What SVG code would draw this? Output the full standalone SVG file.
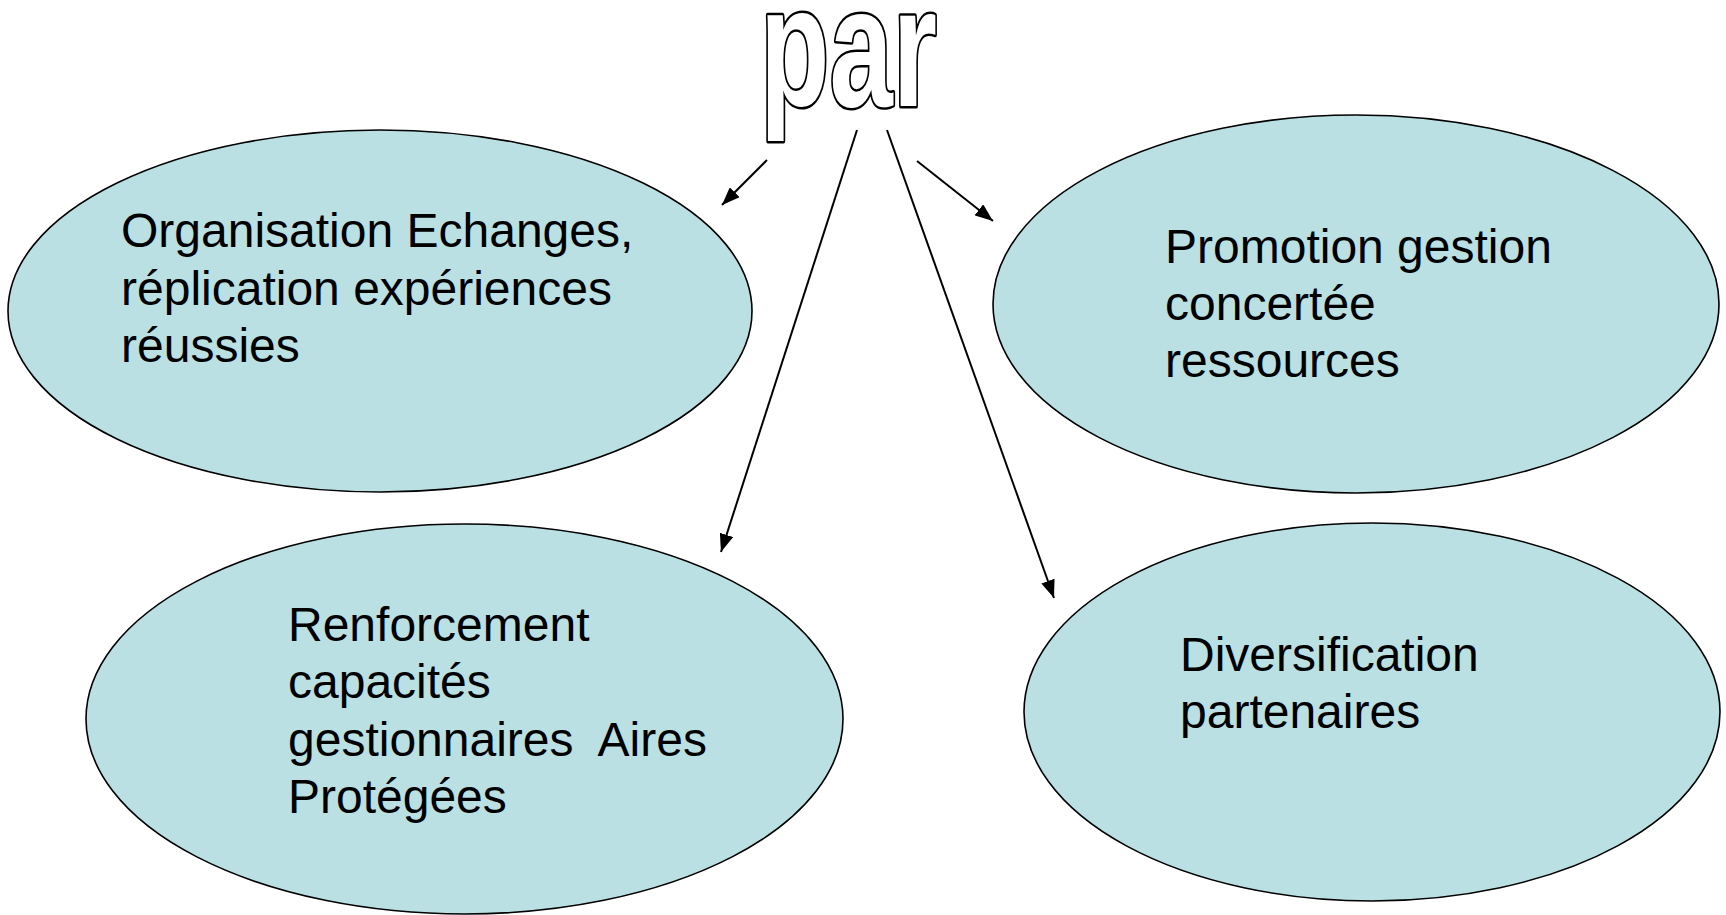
<svg xmlns="http://www.w3.org/2000/svg" width="1726" height="915" viewBox="0 0 1726 915">
<style>
.node ellipse{fill:#BBE0E3;stroke:#000;stroke-width:1.6}
.lbl{font-family:"Liberation Sans",Arial,sans-serif;font-size:48px;fill:#000}
.conn line{stroke:#000;stroke-width:2;fill:none}
.title{font-family:"Liberation Sans",Arial,sans-serif;font-weight:bold;font-size:171px;fill:#fff;stroke:#000;stroke-width:5;paint-order:stroke;stroke-linejoin:round}
</style>
<defs>
<marker id="ah" markerUnits="userSpaceOnUse" markerWidth="18" markerHeight="14" refX="18" refY="7" orient="auto">
<path d="M0,0 L18,7 L0,14 z" fill="#000"/>
</marker>
</defs>
<rect width="1726" height="915" fill="#fff"/>
<g id="title">
<text class="title" x="760" y="106" textLength="177" lengthAdjust="spacingAndGlyphs">par</text>
</g>
<g id="node-organisation" class="node">
<ellipse cx="380" cy="311" rx="372" ry="181"/>
<text class="lbl"><tspan x="121" y="247">Organisation Echanges,</tspan><tspan x="121" y="305">réplication expériences</tspan><tspan x="121" y="362">réussies</tspan></text>
</g>
<g id="node-promotion" class="node">
<ellipse cx="1356" cy="304" rx="363" ry="189"/>
<text class="lbl"><tspan x="1165" y="263">Promotion gestion</tspan><tspan x="1165" y="320">concertée</tspan><tspan x="1165" y="377">ressources</tspan></text>
</g>
<g id="node-renforcement" class="node">
<ellipse cx="464.5" cy="719" rx="378.5" ry="195"/>
<text class="lbl"><tspan x="288" y="641">Renforcement</tspan><tspan x="288" y="698">capacités</tspan><tspan x="288" y="756" xml:space="preserve">gestionnaires  Aires</tspan><tspan x="288" y="813">Protégées</tspan></text>
</g>
<g id="node-diversification" class="node">
<ellipse cx="1372" cy="712" rx="348" ry="189"/>
<text class="lbl"><tspan x="1180" y="671">Diversification</tspan><tspan x="1180" y="728">partenaires</tspan></text>
</g>
<g id="connectors" class="conn">
<line x1="767" y1="160" x2="722" y2="205" marker-end="url(#ah)"/>
<line x1="857" y1="130" x2="721" y2="552" marker-end="url(#ah)"/>
<line x1="887" y1="130" x2="1054" y2="598" marker-end="url(#ah)"/>
<line x1="917" y1="161" x2="993" y2="221" marker-end="url(#ah)"/>
</g>
</svg>
